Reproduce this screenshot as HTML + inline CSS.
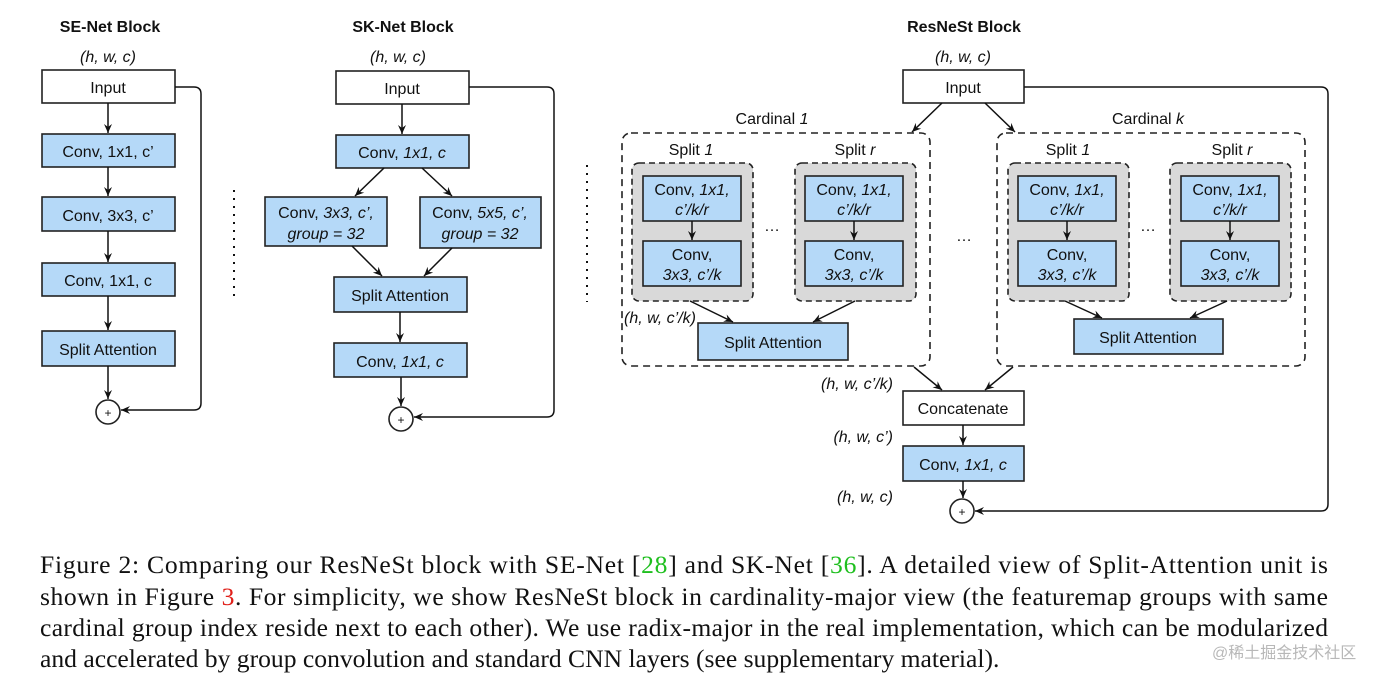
<!DOCTYPE html>
<html><head><meta charset="utf-8"><style>
html,body{margin:0;padding:0;background:#fff}
svg{display:block}
.t{font-family:"Liberation Sans",sans-serif;font-size:16px;fill:#111;text-anchor:middle}
.b{font-weight:bold}
.i{font-style:italic}
.c{font-family:"Liberation Serif",serif;font-size:25.6px;fill:#111}
</style></head><body>
<svg width="1392" height="681" viewBox="0 0 1392 681" xmlns="http://www.w3.org/2000/svg">
<defs>
<marker id="a" markerWidth="10" markerHeight="10" refX="9" refY="5" orient="auto" markerUnits="userSpaceOnUse">
<path d="M0,1 L9,5 L0,9 L3,5 z" fill="#111"/></marker>
</defs>
<g stroke="#222" stroke-width="1.6">
<rect x="42" y="70" width="133" height="33" fill="#fff"/>
<rect x="42" y="134" width="133" height="33" fill="#b5d9f8"/>
<rect x="42" y="197" width="133" height="34" fill="#b5d9f8"/>
<rect x="42" y="263" width="133" height="33" fill="#b5d9f8"/>
<rect x="42" y="331" width="133" height="35" fill="#b5d9f8"/>
<circle cx="108" cy="412" r="12" fill="#fff"/>
<rect x="336" y="71" width="133" height="33" fill="#fff"/>
<rect x="336" y="135" width="133" height="33" fill="#b5d9f8"/>
<rect x="265" y="197" width="122" height="49" fill="#b5d9f8"/>
<rect x="420" y="197" width="121" height="51" fill="#b5d9f8"/>
<rect x="334" y="277" width="133" height="35" fill="#b5d9f8"/>
<rect x="334" y="343" width="133" height="34" fill="#b5d9f8"/>
<circle cx="401" cy="419" r="12" fill="#fff"/>
<rect x="903" y="70" width="121" height="33" fill="#fff"/>
<rect x="622" y="133" width="308" height="233" rx="9" fill="none" stroke-dasharray="7,5"/>
<rect x="997" y="133" width="308" height="233" rx="9" fill="none" stroke-dasharray="7,5"/>
<rect x="632" y="163" width="121" height="138" rx="7" fill="#d9d9d9" stroke-dasharray="6,4"/>
<rect x="795" y="163" width="121" height="138" rx="7" fill="#d9d9d9" stroke-dasharray="6,4"/>
<rect x="1008" y="163" width="121" height="138" rx="7" fill="#d9d9d9" stroke-dasharray="6,4"/>
<rect x="1170" y="163" width="121" height="138" rx="7" fill="#d9d9d9" stroke-dasharray="6,4"/>
<rect x="643" y="176" width="98" height="45" fill="#b5d9f8"/>
<rect x="643" y="241" width="98" height="45" fill="#b5d9f8"/>
<rect x="805" y="176" width="98" height="45" fill="#b5d9f8"/>
<rect x="805" y="241" width="98" height="45" fill="#b5d9f8"/>
<rect x="1018" y="176" width="98" height="45" fill="#b5d9f8"/>
<rect x="1018" y="241" width="98" height="45" fill="#b5d9f8"/>
<rect x="1181" y="176" width="98" height="45" fill="#b5d9f8"/>
<rect x="1181" y="241" width="98" height="45" fill="#b5d9f8"/>
<rect x="698" y="323" width="150" height="37" fill="#b5d9f8"/>
<rect x="1074" y="319" width="149" height="35" fill="#b5d9f8"/>
<rect x="903" y="391" width="121" height="34" fill="#fff"/>
<rect x="903" y="446" width="121" height="35" fill="#b5d9f8"/>
<circle cx="962" cy="511" r="12" fill="#fff"/>
</g>
<g stroke="#111" stroke-width="1.5" fill="none" marker-end="url(#a)">
<line x1="108" y1="103" x2="108" y2="133"/>
<line x1="108" y1="167" x2="108" y2="196"/>
<line x1="108" y1="231" x2="108" y2="262"/>
<line x1="108" y1="296" x2="108" y2="330"/>
<line x1="108" y1="366" x2="108" y2="399"/>
<path d="M175,87 H194 Q201,87 201,94 V403 Q201,410 194,410 H121"/>
<line x1="402" y1="104" x2="402" y2="134"/>
<line x1="384" y1="168" x2="355" y2="196"/>
<line x1="422" y1="168" x2="452" y2="196"/>
<line x1="352" y1="246" x2="382" y2="276"/>
<line x1="452" y1="248" x2="424" y2="276"/>
<line x1="400" y1="312" x2="400" y2="342"/>
<line x1="401" y1="377" x2="401" y2="406"/>
<path d="M469,87 H547 Q554,87 554,94 V410 Q554,417 547,417 H414"/>
<line x1="942" y1="103" x2="912" y2="132"/>
<line x1="985" y1="103" x2="1015" y2="132"/>
<line x1="692" y1="221" x2="692" y2="240"/>
<line x1="854" y1="221" x2="854" y2="240"/>
<line x1="1067" y1="221" x2="1067" y2="240"/>
<line x1="1230" y1="221" x2="1230" y2="240"/>
<line x1="690" y1="301" x2="733" y2="322"/>
<line x1="855" y1="301" x2="813" y2="322"/>
<line x1="1065" y1="301" x2="1102" y2="318"/>
<line x1="1227" y1="301" x2="1190" y2="318"/>
<line x1="914" y1="367" x2="942" y2="390"/>
<line x1="1013" y1="367" x2="985" y2="390"/>
<line x1="963" y1="425" x2="963" y2="445"/>
<line x1="963" y1="481" x2="963" y2="498"/>
<path d="M1024,87 H1321 Q1328,87 1328,94 V504 Q1328,511 1321,511 H975"/>
</g>
<g stroke="#111" stroke-width="2" stroke-dasharray="2,6">
<line x1="234" y1="190" x2="234" y2="302"/>
<line x1="587" y1="165" x2="587" y2="302"/>
</g>
<g class="t">
<text x="110" y="32" class="b">SE-Net Block</text>
<text x="108" y="62" class="i">(h, w, c)</text>
<text x="108" y="93">Input</text>
<text x="108" y="157">Conv, 1x1, c’</text>
<text x="108" y="221">Conv, 3x3, c’</text>
<text x="108" y="286">Conv, 1x1, c</text>
<text x="108" y="355">Split Attention</text>
<text x="108" y="417" font-size="12">+</text>
<text x="403" y="32" class="b">SK-Net Block</text>
<text x="398" y="62" class="i">(h, w, c)</text>
<text x="402" y="94">Input</text>
<text x="402" y="158">Conv, <tspan class="i">1x1, c</tspan></text>
<text x="326" y="218">Conv, <tspan class="i">3x3, c’,</tspan></text>
<text x="326" y="239" class="i">group = 32</text>
<text x="480" y="218">Conv, <tspan class="i">5x5, c’,</tspan></text>
<text x="480" y="239" class="i">group = 32</text>
<text x="400" y="301">Split Attention</text>
<text x="400" y="367">Conv, <tspan class="i">1x1, c</tspan></text>
<text x="401" y="424" font-size="12">+</text>
<text x="964" y="32" class="b">ResNeSt Block</text>
<text x="963" y="62" class="i">(h, w, c)</text>
<text x="963" y="93">Input</text>
<text x="772" y="124">Cardinal <tspan class="i">1</tspan></text>
<text x="1148" y="124">Cardinal <tspan class="i">k</tspan></text>
<text x="691" y="155">Split <tspan class="i">1</tspan></text>
<text x="855" y="155">Split <tspan class="i">r</tspan></text>
<text x="1068" y="155">Split <tspan class="i">1</tspan></text>
<text x="1232" y="155">Split <tspan class="i">r</tspan></text>
<text x="692" y="195">Conv, <tspan class="i">1x1,</tspan></text>
<text x="692" y="215" class="i">c’/k/r</text>
<text x="692" y="260">Conv,</text>
<text x="692" y="280" class="i">3x3, c’/k</text>
<text x="854" y="195">Conv, <tspan class="i">1x1,</tspan></text>
<text x="854" y="215" class="i">c’/k/r</text>
<text x="854" y="260">Conv,</text>
<text x="854" y="280" class="i">3x3, c’/k</text>
<text x="1067" y="195">Conv, <tspan class="i">1x1,</tspan></text>
<text x="1067" y="215" class="i">c’/k/r</text>
<text x="1067" y="260">Conv,</text>
<text x="1067" y="280" class="i">3x3, c’/k</text>
<text x="1230" y="195">Conv, <tspan class="i">1x1,</tspan></text>
<text x="1230" y="215" class="i">c’/k/r</text>
<text x="1230" y="260">Conv,</text>
<text x="1230" y="280" class="i">3x3, c’/k</text>
<text x="772" y="231">…</text>
<text x="1148" y="231">…</text>
<text x="964" y="241">…</text>
<text x="773" y="348">Split Attention</text>
<text x="1148" y="343">Split Attention</text>
<text x="624" y="323" class="i" text-anchor="start">(h, w, c’/k)</text>
<text x="893" y="389" class="i" text-anchor="end">(h, w, c’/k)</text>
<text x="963" y="414">Concatenate</text>
<text x="893" y="442" class="i" text-anchor="end">(h, w, c’)</text>
<text x="963" y="470">Conv, <tspan class="i">1x1, c</tspan></text>
<text x="893" y="502" class="i" text-anchor="end">(h, w, c)</text>
<text x="962" y="516" font-size="12">+</text>
</g>
<text class="c" x="40" y="573" textLength="1288" lengthAdjust="spacing">Figure 2: Comparing our ResNeSt block with SE-Net [<tspan fill="#1fbf1f">28</tspan>] and SK-Net [<tspan fill="#1fbf1f">36</tspan>]. A detailed view of Split-Attention unit is</text>
<text class="c" x="40" y="605" textLength="1288" lengthAdjust="spacing">shown in Figure <tspan fill="#e0201a">3</tspan>. For simplicity, we show ResNeSt block in cardinality-major view (the featuremap groups with same</text>
<text class="c" x="40" y="636" textLength="1288" lengthAdjust="spacing">cardinal group index reside next to each other). We use radix-major in the real implementation, which can be modularized</text>
<text class="c" x="40" y="667">and accelerated by group convolution and standard CNN layers (see supplementary material).</text>
<text x="1212" y="658" font-family="Liberation Sans, Noto Sans CJK SC, sans-serif" font-size="16" fill="#b8b8b8">@稀土掘金技术社区</text>
</svg>
</body></html>
